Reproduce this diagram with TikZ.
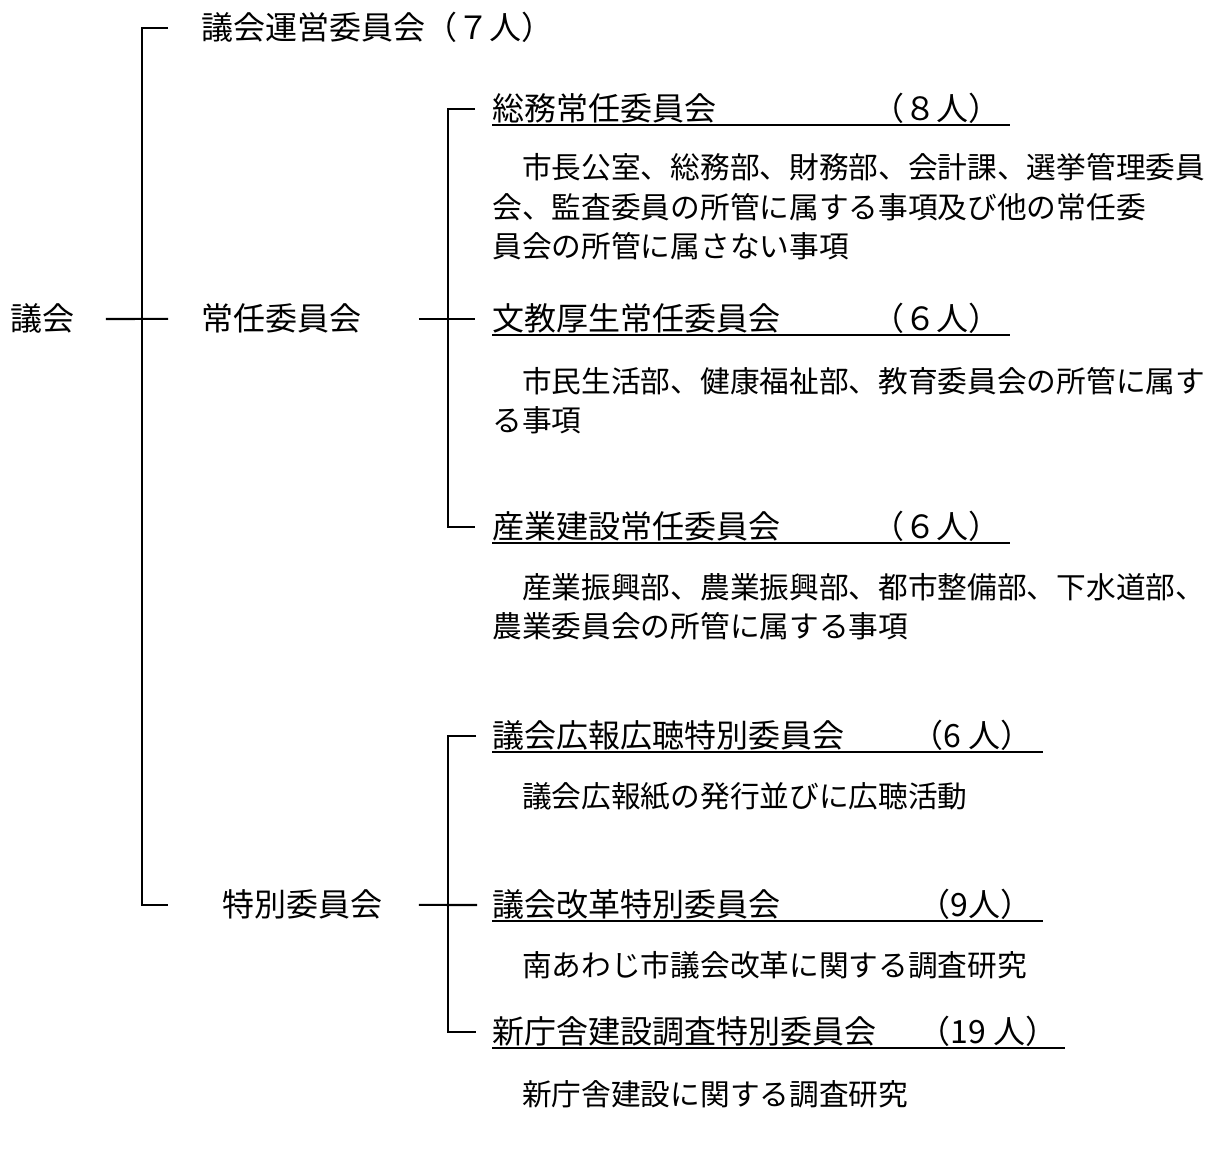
\documentclass[tikz,border=0pt]{standalone}
\usepackage{fontspec}
\setmainfont{Noto Sans CJK JP}
\usepackage{tikz}
\usetikzlibrary{positioning}
\tikzstyle{cmte} = [inner sep=0pt, anchor=base west, font=\fontsize{16}{19}\selectfont]
\tikzstyle{ninzu} = [inner sep=0pt, anchor=base east, font=\fontsize{16}{19}\selectfont]
% multi-line: base is the last line
\tikzstyle{desc} = [inner sep=0pt, anchor=base west, align=left, font=\fontsize{14.85}{19.75}\selectfont]
\tikzstyle{tree} = [line width=1.1pt]
\tikzstyle{uline} = [line width=1pt]

\begin{document}
\begin{tikzpicture}[x=0.5pt, y=-0.5pt]
\useasboundingbox (0,0) rectangle (1212,1149);

% left side
\node[cmte] (gikai) at (10,331) {議会};
\node[cmte] (unei) at (201,40) {議会運営委員会（７人）};
\node[cmte] (jonin) at (201,331) {常任委員会};
\node[cmte] (tokubetsu) at (222,917) {特別委員会};

% standing committees
\node[cmte] (somu) at (492,121) {総務常任委員会};
\node[ninzu] (somun) at (1001,121) {（８人）};
\node[desc] (somud) at (492,258) {　市長公室、総務部、財務部、会計課、選挙管理委員\\会、監査委員の所管に属する事項及び他の常任委\\員会の所管に属さない事項};

\node[cmte] (bunkyo) at (492,331) {文教厚生常任委員会};
\node[ninzu] (bunkyon) at (1001,331) {（６人）};
\node[desc] (bunkyod) at (492,432) {　市民生活部、健康福祉部、教育委員会の所管に属す\\る事項};

\node[cmte] (sangyo) at (492,539) {産業建設常任委員会};
\node[ninzu] (sangyon) at (1001,539) {（６人）};
\node[desc] (sangyod) at (492,638) {　産業振興部、農業振興部、都市整備部、下水道部、\\農業委員会の所管に属する事項};

% special committees
\node[cmte] (koho) at (492,748) {議会広報広聴特別委員会};
\node[ninzu] (kohon) at (1033,748) {（6 人）};
\node[desc] (kohod) at (492,808) {　議会広報紙の発行並びに広聴活動};

\node[cmte] (kaikaku) at (492,917) {議会改革特別委員会};
\node[ninzu] (kaikakun) at (1033,917) {（9人）};
\node[desc] (kaikakud) at (492,977) {　南あわじ市議会改革に関する調査研究};

\node[cmte] (chosha) at (492,1044) {新庁舎建設調査特別委員会};
\node[ninzu] (choshan) at (1058,1044) {（19 人）};
\node[desc] (choshad) at (492,1106) {　新庁舎建設に関する調査研究};

% tree lines
\draw[tree] ([xshift=15.5pt]gikai.east) -- ([xshift=-16.5pt]jonin.west);
\draw[tree] ([xshift=-16.5pt]unei.west) -- ++(-26,0) |- ([xshift=-27pt]tokubetsu.west);
\draw[tree] ([xshift=28.5pt]jonin.east) -- ([xshift=-8.5pt]bunkyo.west);
\draw[tree] ([xshift=-8.5pt]somu.west) -- ++(-27,0) |- ([xshift=-8.5pt]sangyo.west);
\draw[tree] ([xshift=18pt]tokubetsu.east) -- ([xshift=-7.5pt]kaikaku.west);
\draw[tree] ([xshift=-8pt]koho.west) -- ++(-28,0) |- ([xshift=-8pt]chosha.west);

% underlines
\draw[uline] ([yshift=-2pt]somu.base west) -- ([xshift=4.5pt,yshift=-2pt]somun.base east);
\draw[uline] ([yshift=-2pt]bunkyo.base west) -- ([xshift=4.5pt,yshift=-2pt]bunkyon.base east);
\draw[uline] ([yshift=-2pt]sangyo.base west) -- ([xshift=4.5pt,yshift=-2pt]sangyon.base east);
\draw[uline] ([yshift=-2pt]koho.base west) -- ([xshift=5pt,yshift=-2pt]kohon.base east);
\draw[uline] ([yshift=-2pt]kaikaku.base west) -- ([xshift=5pt,yshift=-2pt]kaikakun.base east);
\draw[uline] ([yshift=-2pt]chosha.base west) -- ([xshift=3.5pt,yshift=-2pt]choshan.base east);

\end{tikzpicture}
\end{document}
